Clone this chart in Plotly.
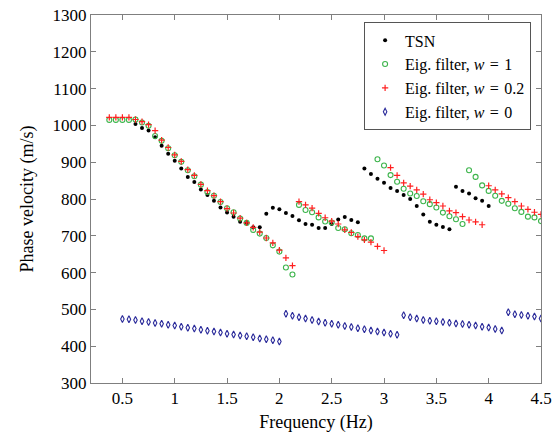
import numpy as np
import plotly.graph_objects as go

STEP = 0.0625

# TSN (black dots): 0.625 .. 4.0 Hz
tsn_f = np.arange(0.625, 4.0 + 1e-9, STEP)
tsn_v = [1004, 993, 986, 968, 945, 923, 904, 883, 860, 846, 826, 811, 795, 777, 763, 752, 738, 735, 723, 723,
         760, 776, 772, 762, 754, 742, 732, 730, 721, 721, 732, 744, 751, 743, 737,
         883, 868, 855, 844, 830, 822, 811, 800, 781, 758, 738, 730, 724, 718,
         833, 822, 815, 802, 795, 781]

# Eig. filter, w = 1 (green circles)
g1_f = np.arange(0.375, 2.125 + 1e-9, STEP)
g1_v = [1015, 1015, 1015, 1015, 1016, 1008, 999, 971, 958, 938, 919, 901, 878, 862, 839, 819, 809, 792, 775,
        764, 747, 735, 716, 706, 694, 674, 657, 614, 595]
g2_f = np.arange(2.1875, 2.875 + 1e-9, STEP)
g2_v = [784, 770, 764, 750, 739, 736, 721, 718, 707, 702, 693, 693]
g3_f = np.arange(2.9375, 3.75 + 1e-9, STEP)
g3_v = [908, 891, 865, 847, 828, 815, 808, 794, 786, 777, 763, 753, 745, 732]
g4_f = np.arange(3.8125, 4.5 + 1e-9, STEP)
g4_v = [878, 860, 837, 822, 809, 795, 787, 775, 765, 752, 750, 740]

# Eig. filter, w = 0.2 (red pluses)
r1_f = np.arange(0.375, 2.125 + 1e-9, STEP)
r1_v = [1022, 1022, 1022, 1022, 1016, 1010, 1002, 986, 960, 940, 920, 902, 880, 864, 840, 823, 809, 793, 774,
        762, 748, 735, 723, 710, 694, 681, 661, 640, 619]
r2_f = np.arange(2.1875, 3.0 + 1e-9, STEP)
r2_v = [793, 784, 775, 761, 749, 740, 732, 716, 709, 698, 689, 683, 671, 660]
r3_f = np.arange(3.0625, 3.9375 + 1e-9, STEP)
r3_v = [885, 864, 844, 835, 825, 813, 798, 790, 781, 768, 763, 752, 743, 738, 730]
r4_f = np.arange(4.0, 4.5 + 1e-9, STEP)
r4_v = [836, 825, 814, 804, 793, 781, 772, 764, 758]

# Eig. filter, w = 0 (blue diamonds)
b1_f = np.arange(0.5, 2.0 + 1e-9, STEP)
b1_v = [474, 473, 471, 468, 466, 463, 461, 458, 456, 453, 450, 448, 445, 442, 440, 437, 434, 432, 429, 427,
        424, 421, 419, 416, 413]
b2_f = np.arange(2.0625, 3.125 + 1e-9, STEP)
b2_v = [488, 483, 479, 475, 471, 467, 464, 461, 458, 455, 452, 449, 446, 443, 440, 437, 434, 431]
b3_f = np.arange(3.1875, 4.125 + 1e-9, STEP)
b3_v = [484, 479, 475, 471, 469, 468, 466, 464, 462, 460, 458, 456, 453, 451, 447, 443]
b4_f = np.arange(4.1875, 4.5 + 1e-9, STEP)
b4_v = [492, 487, 485, 483, 481, 475]

x_ticks = [0.5, 1, 1.5, 2, 2.5, 3, 3.5, 4, 4.5]
x_tick_text = ["0.5", "1", "1.5", "2", "2.5", "3", "3.5", "4", "4.5"]
y_ticks = [300, 400, 500, 600, 700, 800, 900, 1000, 1100, 1200, 1300]

series_names = ["TSN",
                "Eig. filter, <i>w</i>\u2004=\u20041",
                "Eig. filter, <i>w</i>\u2004=\u20040.2",
                "Eig. filter, <i>w</i>\u2004=\u20040"]

green_f = np.concatenate([g1_f, g2_f, g3_f, g4_f])
green_v = g1_v + g2_v + g3_v + g4_v
red_f = np.concatenate([r1_f, r2_f, r3_f, r4_f])
red_v = r1_v + r2_v + r3_v + r4_v
blue_f = np.concatenate([b1_f, b2_f, b3_f, b4_f])
blue_v = b1_v + b2_v + b3_v + b4_v

FONT = "Liberation Serif"

fig = go.Figure()
fig.add_trace(go.Scatter(x=tsn_f, y=tsn_v, mode="markers", name=series_names[0],
                         marker=dict(symbol="circle", size=4, color="black")))
fig.add_trace(go.Scatter(x=green_f, y=green_v, mode="markers", name=series_names[1],
                         marker=dict(symbol="circle-open", size=5, color="#3cb44b", line=dict(width=1.1))))
fig.add_trace(go.Scatter(x=red_f, y=red_v, mode="markers", name=series_names[2],
                         marker=dict(symbol="cross-thin-open", size=4.5, color="#ff2020", line=dict(width=1.2))))
fig.add_trace(go.Scatter(x=blue_f, y=blue_v, mode="markers", name=series_names[3],
                         marker=dict(symbol="diamond-tall-open", size=5, color="#2a2a9a", line=dict(width=1.1))))

axis_common = dict(showline=True, linecolor="#7f7f7f", linewidth=1, mirror="ticks", ticks="inside",
                   ticklen=5, tickcolor="#7f7f7f", showgrid=False, zeroline=False, automargin=False,
                   tickfont=dict(family=FONT, size=17, color="black"))

fig.update_xaxes(range=[0.2, 4.5], tickvals=x_ticks, ticktext=x_tick_text,
                 title=dict(text="Frequency (Hz)", font=dict(family=FONT, size=18, color="black"), standoff=7),
                 **axis_common)
fig.update_yaxes(range=[300, 1300], tickvals=y_ticks,
                 title=dict(text="Phase velocity (m/s)", font=dict(family=FONT, size=18, color="black"), standoff=14),
                 **axis_common)

fig.update_layout(
    width=560, height=436,
    margin=dict(l=91, r=19, t=15, b=53, autoexpand=False),
    paper_bgcolor="white", plot_bgcolor="white",
    font=dict(family=FONT, color="black"),
    legend=dict(x=0.978, y=0.98, xanchor="right", yanchor="top",
                bgcolor="white", bordercolor="#555555", borderwidth=1,
                font=dict(family=FONT, size=16, color="black"),
                tracegroupgap=0, itemsizing="trace"),
    showlegend=True,
)

fig.write_html("out.html")
